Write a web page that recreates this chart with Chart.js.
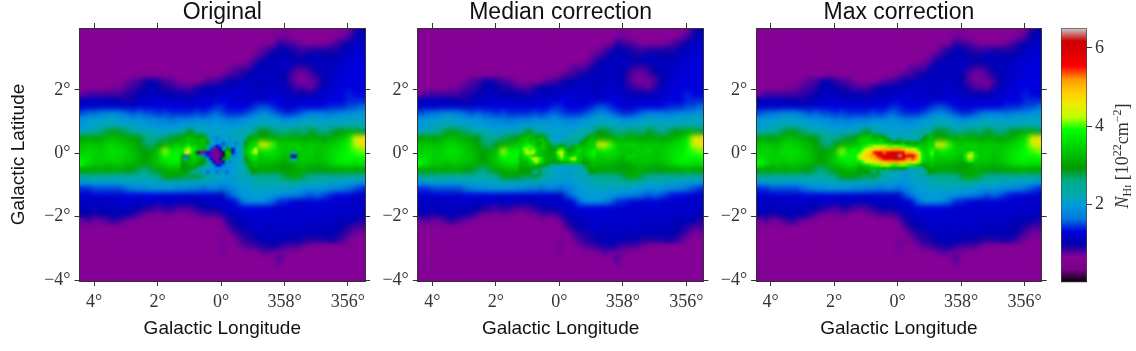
<!DOCTYPE html>
<html>
<head>
<meta charset="utf-8">
<title>Galactic NHI maps</title>
<script src="https://cdn.jsdelivr.net/npm/chart.js@4"></script>
<style>
  body { margin: 0; background: #fff; }
  #wrap { position: relative; width: 1136px; height: 351px; overflow: hidden; }
  canvas { position: absolute; top: 0; }
</style>
</head>
<body>
<div id="wrap">
  <canvas id="panelOriginal" width="380" height="351" style="left:0"></canvas>
  <canvas id="panelMedian" width="380" height="351" style="left:338px"></canvas>
  <canvas id="panelMax" width="380" height="351" style="left:676px"></canvas>
  <canvas id="colorbar" width="96" height="351" style="left:1040px"></canvas>
</div>
<script>
const panelTitles = ['Original', 'Median correction', 'Max correction'];
const lonTicks = [4, 2, 0, -2, -4];
const lonTickLabels = ['4°', '2°', '0°', '358°', '356°'];
const latTicks = [2, 0, -2, -4];
const latTickLabels = ['2°', '0°', '−2°', '−4°'];
const cbarTicks = [2, 4, 6];

// longitude / latitude of the 0.2 degree map cells
const lonCenters = [4.36,4.16,3.96,3.76,3.56,3.36,3.16,2.96,2.76,2.56,2.36,2.16,1.96,1.76,1.56,1.36,1.16,.96,.76,.56,.36,.16,-.04,-.24,-.44,-.64,-.84,-1.04,-1.24,-1.44,-1.64,-1.84,-2.04,-2.24,-2.44,-2.64,-2.84,-3.04,-3.24,-3.44,-3.64,-3.84,-4.04,-4.24,-4.44];
const latCenters = [3.86,3.66,3.46,3.26,3.06,2.86,2.66,2.46,2.26,2.06,1.86,1.66,1.46,1.26,1.06,.86,.66,.46,.26,.06,-.14,-.34,-.54,-.74,-.94,-1.14,-1.34,-1.54,-1.74,-1.94,-2.14,-2.34,-2.54,-2.74,-2.94,-3.14,-3.34,-3.54,-3.74,-3.94];

// column density, 10^22 cm^-2, one row per latitude
const nhMap = [
[.6,.6,.6,.6,.6, .6,.6,.6,.6,.6, .6,.6,.6,.6,.6, .6,.6,.6,.6,.6, .6,.6,.6,.6,.6, .6,.6,.6,.6,.6, .6,.6,.7,.6,.6, .6,.6,.6,.6,.6, .6,.6,.7,.9,1],
[.6,.6,.6,.6,.6, .6,.6,.6,.6,.6, .6,.6,.6,.6,.6, .6,.6,.6,.6,.6, .6,.6,.6,.6,.6, .6,.6,.6,.6,.6, .6,.7,.7,.6,.6, .6,.6,.6,.6,.6, .6,.7,.8,1,1.1],
[.6,.6,.6,.6,.6, .6,.6,.6,.6,.6, .6,.6,.6,.6,.6, .6,.6,.6,.6,.6, .6,.6,.6,.6,.6, .6,.6,.6,.6,.6, .6,.9,.8,.8,.7, .6,.6,.6,.6,.7, .8,.9,1,1.1,1.2],
[.6,.6,.6,.6,.6, .6,.6,.6,.6,.6, .6,.6,.6,.6,.6, .6,.6,.6,.6,.6, .6,.6,.6,.6,.6, .6,.6,.6,.7,.8, .9,1,1,.9,.9, .8,.9,.9,.9,.9, .9,1,1.1,1.2,1.2],
[.6,.6,.6,.6,.6, .6,.6,.6,.6,.6, .6,.6,.6,.6,.6, .6,.6,.6,.6,.6, .6,.6,.6,.6,.6, .6,.6,.7,.8,.9, 1,1.1,1.1,1,.9, 1,1.1,1.1,1,1, 1,1.1,1.2,1.2,1.3],
[.6,.6,.6,.6,.6, .6,.6,.6,.6,.6, .6,.6,.6,.6,.6, .6,.6,.6,.6,.6, .6,.6,.6,.6,.6, .6,.7,.8,1,1, 1.1,1.1,1.1,1.1,1, 1,1.1,1.1,1.1,1.1, 1.1,1.2,1.2,1.3,1.3],
[.6,.6,.6,.6,.6, .6,.6,.6,.6,.6, .6,.6,.6,.6,.6, .6,.6,.6,.6,.6, .6,.6,.6,.6,.8, .8,.8,1,1.1,1.1, 1.1,1.1,1.1,.9,.8, .8,.9,1,1.1,1.1, 1.2,1.2,1.3,1.3,1.3],
[.6,.6,.6,.6,.6, .6,.6,.6,.6,.6, .6,.6,.6,.6,.6, .6,.6,.6,.6,.6, .6,.6,.7,.8,.8, .9,1,1.1,1.1,1.1, 1.1,1.1,1,.8,.7, .7,.8,.9,1.1,1.1, 1.2,1.2,1.3,1.3,1.3],
[.6,.6,.6,.6,.6, .6,.6,.7,.8,.8, 1,1,.9,.8,.8, .7,.6,.6,.6,.7, .8,.8,.9,1,1, 1.1,1.1,1.1,1.1,1.1, 1.1,1.1,1,.8,.7, .7,.7,.8,1,1.1, 1.2,1.3,1.3,1.3,1.3],
[.6,.6,.6,.6,.6, .7,.7,.8,.8,.9, 1,1.1,1,.9,.9, .8,.8,.8,.9,1, 1,1.1,1.1,1.1,1.1, 1.2,1.2,1.1,1.1,1.1, 1.2,1.1,1.1,.9,.8, .8,.7,.9,1.1,1.2, 1.3,1.3,1.3,1.3,1.3],
[.7,.8,.8,.8,.8, .8,.8,.9,.9,1, 1.1,1.1,1.1,1,1, 1.1,1,.9,1.1,1.1, 1.1,1.1,1.2,1.2,1.2, 1.2,1.2,1.1,1.1,1.2, 1.2,1.2,1.1,1.1,1, 1,1,1.1,1.2,1.2, 1.3,1.3,1.4,1.3,1.3],
[1,1.1,1.1,1.1,1.1, 1,1,.9,1,1.1, 1.1,1.2,1.2,1.2,1.1, 1.1,1.1,1.1,1.2,1.2, 1.2,1.2,1.3,1.3,1.2, 1.2,1.2,1.2,1.2,1.2, 1.3,1.3,1.2,1.2,1.2, 1.2,1.2,1.2,1.3,1.3, 1.3,1.3,1.4,1.4,1.4],
[1.2,1.2,1.2,1.2,1.2, 1.2,1.2,1.2,1.2,1.3, 1.3,1.3,1.3,1.3,1.3, 1.3,1.3,1.2,1.3,1.3, 1.3,1.4,1.4,1.3,1.3, 1.3,1.3,1.4,1.5,1.5, 1.4,1.3,1.2,1.2,1.3, 1.3,1.3,1.3,1.3,1.4, 1.4,1.4,1.5,1.5,1.6],
[1.5,1.6,1.6,1.7,1.8, 1.8,1.7,1.6,1.5,1.6, 1.5,1.5,1.4,1.5,1.4, 1.4,1.4,1.4,1.5,1.4, 1.5,1.6,1.5,1.4,1.4, 1.4,1.5,1.6,1.8,1.8, 1.6,1.5,1.4,1.4,1.5, 1.6,1.7,1.7,1.7,1.6, 1.7,1.8,1.8,1.9,1.9],
[1.9,2,2,2,2.1, 2.1,2,2,1.9,1.9, 1.8,1.8,1.7,1.7,1.6, 1.7,1.7,1.7,1.8,1.8, 1.8,1.9,1.8,1.7,1.7, 1.8,1.9,2,2.1,2.1, 2,2,1.8,1.9,1.9, 2,2.1,2,2,2, 2.1,2,2.1,2.1,2.1],
[1.9,2,2.1,2.2,2.2, 2.2,2.2,2.1,2.1,2, 2,1.9,1.9,1.9,1.9, 1.9,2,2,2,2.1, 2,2,2,1.9,1.9, 2,2,2.1,2.2,2.3, 2.2,2.1,2.1,2.2,2.2, 2.3,2.3,2.2,2.2,2.2, 2.2,2.2,2.3,2.3,2.2],
[2.2,2.3,2.4,2.6,2.8, 3,2.8,2.7,2.5,2.3, 2.3,2.2,2.1,2.1,2.2, 2.2,2.5,2.9,2.5,2.2, 2.1,2.1,2.1,2.1,2.2, 2.3,2.3,2.5,2.9,2.9, 2.7,2.6,2.6,2.7,2.7, 2.6,2.9,2.7,2.5,2.7, 2.9,3,3.1,3.1,2.8],
[3,3.1,3,3.1,3.2, 3.3,3.2,3.1,3,2.9, 2.6,2.5,2.5,2.7,2.8, 2.9,3,3,3.1,2.9, 2.6,2.2,2,2.1,2.1, 2.2,2.6,3,3.1,3.1, 3.1,3.1,3.2,3.1,3.1, 3,3.1,3.1,3,3.1, 3.2,3.4,3.6,4.4,4.7],
[3.3,3.4,3.3,3.3,3.5, 3.5,3.4,3.3,3.2,3, 2.7,2.6,2.9,3.1,3.2, 3.4,3.4,3.5,3.4,3.3, 3,3,3,3,3, 3.1,3.2,3.5,4.4,4.6, 4,3.4,3.4,3.5,3.5, 3.3,3.4,3.4,3.3,3.4, 3.5,3.6,3.8,4.3,4.7],
[3.4,3.5,3.5,3.4,3.6, 3.6,3.6,3.4,3.3,3.1, 2.9,3.1,3.3,4.2,3.7, 3.8,3.7,3.7,3.5,3.4, 3,3,3,3,3, 3.1,3.3,3.4,3.5,3.8, 3.6,3.5,3.4,3.3,3.4, 3.4,3.5,3.3,3.4,3.5, 3.6,3.7,3.9,4,4.1],
[3.6,3.6,3.4,3.5,3.5, 3.6,3.5,3.4,3.4,3.1, 3,3.2,3.4,3.9,3.8, 3.9,3.7,3.6,3.5,3.4, 3,3,3,3,3, 3.1,3.2,3.3,3.4,3.4, 3.5,3.4,3.2,3.4,3.5, 3.4,3.4,3.3,3.4,3.5, 3.7,3.8,3.9,3.8,3.9],
[3.9,3.6,3.4,3.4,3.3, 3.4,3.4,3.3,3.2,3.1, 3,3.2,3.4,3.5,3.7, 3.6,3.6,3.5,3.3,3.2, 2.8,2.8,2.8,2.8,2.8, 2.9,3,3.1,3.3,3.2, 3.2,3.1,3,3.1,3.3, 3.3,3.3,3.2,3.3,3.4, 3.6,3.7,3.7,3.6,3.6],
[3,3,3,3.1,3, 3.1,3.1,2.9,2.9,2.7, 2.5,2.8,3,3.1,3.2, 3.2,3.1,3.1,3,2.9, 2.5,2.5,2.5,2.5,2.5, 2.6,2.7,2.9,3,3, 3,3,3,3,3.1, 3.1,3,2.9,2.9,3, 3,3,3.1,3,3],
[2.5,2.5,2.4,2.4,2.4, 2.4,2.4,2.3,2.3,2.3, 2.3,2.4,2.6,3,3, 2.9,2.8,2.7,2.8,2.6, 2.4,2.1,2.2,1.9,2.1, 2.2,2.1,2.4,2.5,2.6, 2.5,2.5,2.8,3.1,3.1, 2.7,2.5,2.5,2.5,2.5, 2.5,2.5,2.4,2.4,2.4],
[1.9,2,2.1,2,2, 2,2,2.1,2.1,2.1, 2.1,2.1,2.1,2.1,2.1, 2.1,2.1,2.1,2.1,2.1, 2,2,1.9,1.9,2, 2.1,2.1,2.2,2.3,2.3, 2.3,2.3,2.3,2.4,2.3, 2.2,2.2,2.2,2.1,2.1, 2.1,2,2,2,1.9],
[1.4,1.4,1.5,1.5,1.5, 1.5,1.5,1.6,1.7,1.8, 1.8,1.9,1.9,1.9,1.9, 1.8,1.8,1.7,1.7,1.6, 1.7,1.7,1.6,1.7,1.8, 2,2,2.1,2.1,2.1, 2.1,2.1,2.1,2,2, 1.9,1.9,1.9,1.9,1.8, 1.8,1.7,1.6,1.5,1.4],
[1.2,1.2,1.2,1.2,1.2, 1.2,1.2,1.3,1.3,1.3, 1.3,1.3,1.3,1.2,1.3, 1.2,1.2,1.2,1.2,1.2, 1.2,1.1,1.1,1.5,1.7, 1.9,1.9,2,2,2, 1.9,1.9,1.8,1.8,1.7, 1.6,1.5,1.6,1.5,1.4, 1.3,1.3,1.3,1.2,1.2],
[1.1,1.2,1.1,1.1,1.2, 1.1,1.2,1.2,1.1,1.1, 1.2,1.2,1.1,1.1,1.2, 1.1,1.1,1.1,1.1,1.1, 1.2,1.2,1.2,1.2,1.3, 1.6,1.9,1.9,1.9,1.8, 1.6,1.4,1.4,1.3,1.2, 1.2,1.3,1.3,1.2,1.2, 1.2,1.2,1.1,1.1,1.2],
[1,1.1,1.1,1.1,1.1, 1.1,1.1,1.1,1.1,1, .9,.9,.8,.9,.9, .8,.8,.8,.9,1, 1,1,1.1,1.2,1.2, 1.3,1.3,1.3,1.3,1.3, 1.2,1.2,1.2,1.2,1.2, 1.2,1.2,1.2,1.2,1.2, 1.2,1.2,1.2,1.2,1.1],
[1,1,.9,1,1, 1.1,1,1,.9,.8, .7,.7,.7,.7,.7, .6,.6,.7,.7,.8, .8,.8,.9,1.1,1.1, 1.2,1.2,1.2,1.2,1.2, 1.2,1.2,1.2,1.2,1.2, 1.2,1.2,1.2,1.2,1.2, 1.1,1.1,1.2,1.1,1.1],
[.7,.8,.7,.7,.8, .9,.8,.7,.7,.6, .6,.6,.6,.6,.6, .6,.6,.6,.6,.6, .6,.6,.7,.9,1, 1.1,1.1,1.2,1.2,1.2, 1.2,1.2,1.2,1.2,1.2, 1.1,1.2,1.2,1.1,1.2, 1.1,1,1.1,1,.9],
[.6,.6,.6,.6,.6, .6,.6,.6,.6,.6, .6,.6,.6,.6,.6, .6,.6,.6,.6,.6, .6,.6,.6,.8,.9, 1,1.1,1.1,1.2,1.1, 1.1,1.2,1.1,1.1,1.2, 1.1,1.1,1.1,1.1,1.1, 1,1,.9,.8,.8],
[.6,.6,.6,.6,.6, .6,.6,.6,.6,.6, .6,.6,.6,.6,.6, .6,.6,.6,.6,.6, .6,.6,.6,.6,.8, .9,.9,1.1,1.1,1.1, 1.1,1.1,1.1,1.1,1.1, 1.1,1,1.1,1,1.1, 1,.9,.8,.7,.7],
[.6,.6,.6,.6,.6, .6,.6,.6,.6,.6, .6,.6,.6,.6,.6, .6,.6,.6,.6,.6, .6,.6,.7,.6,.7, .8,.9,.9,1,1.1, 1.1,1.1,1,1,1, .9,.9,.9,.9,1, .9,.8,.7,.6,.6],
[.6,.6,.6,.6,.6, .6,.6,.6,.6,.6, .6,.6,.6,.6,.6, .6,.6,.6,.6,.6, .6,.6,.7,.6,.6, .7,.8,.8,.9,.9, 1,.9,.8,.8,.8, .7,.6,.6,.6,.6, .6,.6,.6,.6,.6],
[.6,.6,.6,.6,.6, .6,.6,.6,.6,.6, .6,.6,.6,.6,.6, .6,.6,.6,.6,.6, .6,.6,.7,.6,.6, .6,.6,.6,.7,.8, .7,.7,.7,.6,.6, .6,.6,.6,.6,.6, .6,.6,.6,.6,.6],
[.6,.6,.6,.6,.6, .6,.6,.6,.6,.6, .6,.6,.6,.6,.6, .6,.6,.6,.6,.6, .6,.6,.6,.6,.6, .6,.6,.6,.6,.6, .6,.8,.6,.6,.6, .6,.6,.6,.6,.6, .6,.6,.6,.6,.6],
[.55,.55,.55,.55,.55, .55,.55,.55,.55,.55, .55,.55,.55,.55,.55, .55,.55,.55,.55,.55, .6,.6,.6,.6,.6, .6,.6,.6,.6,.6, .6,.7,.6,.6,.6, .6,.6,.6,.6,.6, .6,.6,.6,.6,.6],
[.55,.55,.55,.55,.55, .55,.55,.55,.55,.55, .55,.55,.55,.55,.55, .55,.55,.55,.55,.55, .55,.55,.55,.55,.55, .55,.6,.6,.6,.6, .6,.6,.6,.6,.6, .6,.6,.6,.6,.6, .6,.6,.6,.6,.6],
[.55,.55,.55,.55,.55, .55,.55,.55,.55,.55, .55,.55,.55,.55,.55, .55,.55,.55,.55,.55, .55,.55,.55,.55,.55, .55,.55,.55,.55,.55, .55,.55,.6,.6,.6, .6,.6,.6,.6,.6, .6,.6,.6,.6,.6]
];

// the Galactic centre differs per panel, read at 0.1 degree
const coreLon = [1.21,1.11,1.01,.91,.81,.71,.61,.51,.41,.31,.21,.11,.01,-.09,-.19,-.29,-.39,-.49,-.59,-.69,-.79,-.89,-.99,-1.09];
const coreLat = [.51,.41,.31,.21,.11,.01,-.09,-.19,-.29,-.39,-.49,-.59];
const coreOriginal = [
[3,3.1,3.2,3.2,3.1,3,3,3.1,2.6,2,1.9,1.8,1.9,2,2.1,2.1,2.2,2.2,2.1,2.2,2.4,2.8,3.1,3.2],
[3.2,3.3,3.4,3.2,3.3,3.2,3.3,3.3,2.8,2.1,1.9,1.8,2,2.1,2.2,1.9,2.2,2.3,2.1,2.2,2.7,3.1,3.2,3.3],
[3.3,3.3,3.5,3.3,3.4,3.2,3.3,3.3,3,2.3,2,1.9,2,1.5,2,1.9,2,1.7,2.2,2.4,2.9,3.3,3.4,3.5],
[3.4,3.6,3.9,3.5,3.6,3.3,3.3,3.2,2.5,2,1.6,1.3,1.5,1.9,1.7,2,2.1,2,2.1,2.5,3.1,3.4,3.5,3.7],
[3.6,4,4.3,3.9,3.6,3.4,3.3,3.1,2.4,1.5,.7,.7,1,2.6,3.1,3,1.3,2,2.2,2.4,3.2,3.5,3.8,4.3],
[3.4,4.4,4.6,3.9,3.3,.9,.6,.7,1.3,.8,.6,.7,.8,.1,3.5,3.4,1.2,1.9,2,2.3,3.3,3.5,4,4.4],
[3.1,1.6,2.8,3.5,3.4,3.2,2.6,1.6,1.4,.7,.7,.6,.7,.1,3.4,3.3,1.8,2,2,2.3,3.2,3.4,3.6,3.8],
[3.1,2,2.9,3.4,3.5,3.3,3.1,2.8,2,1.3,.7,.7,1,3,3.2,2.6,1.8,2,2.1,2.4,3,3.3,3.5,3.6],
[3,3.1,3.2,3.3,3.3,3.1,3,2.9,2.6,2,1,.6,.7,1.2,2.3,1.7,2,2.1,2.1,2.3,2.8,3.1,3.3,3.4],
[2.9,3,3.1,3.2,3.1,3,2.8,2.6,2.4,2.1,1.8,1.3,1.4,1.7,1.9,2,2,2.1,2.1,2.3,2.6,3.1,3.2,3.3],
[2.9,2.9,3,3,2.8,2.6,2.6,2.4,2.2,2,1.9,1.9,1.8,1.9,2,1.9,2,2.1,2.1,2.2,2.4,2.8,3,3.1],
[3,2.9,2.8,2.6,2.4,2.3,1.8,2.1,1.6,2,1.9,1.6,1.9,1.9,1.6,1.9,2,2,2.1,2.2,2.3,2.6,2.9,3]
];
const coreMedian = [
[3.1,3.2,3.3,3.3,3.2,3,3,3.1,2.8,2.2,2,2,1.9,2,2.1,2.1,2.2,2.3,2.2,2.3,2.5,2.8,3.1,3.2],
[3.3,3.4,3.5,3.2,3.3,3.2,3.3,3.4,3,2.6,2.3,2.1,2.1,2.2,2.4,2.3,2.5,2.4,2.4,2.6,2.8,3.1,3.3,3.3],
[3.4,3.4,3.7,3.4,3.5,3.3,3,3.4,3.3,3.1,2.5,2.4,2.4,2.5,2.7,2.4,2.5,2.6,2.6,2.9,3.1,3.3,3.5,3.5],
[3.5,3.8,3.9,4,3.6,3.3,3.2,3.5,3.3,3.1,2.8,2.7,3,3,2.8,2.6,2.8,3.1,3.3,3.3,3.3,3.3,3.4,3.5],
[3.6,4,4.3,3.8,4.1,3.6,3.3,3.4,3.2,3,3,3.1,3.7,4,3.4,3,3.1,3.2,3.5,3.4,3.4,3.5,3.5,3.7],
[3.5,3.9,4.5,4.2,4.4,3.6,3.4,3.3,3.2,3.1,3.1,3.3,4.2,4.5,3.6,3.2,3.2,3.3,3.6,3.5,3.3,3.6,3.6,3.9],
[3.4,3.6,3.9,4,3.6,3.5,3.4,3.3,3.1,3.1,3.1,3.2,3.9,4.3,3.7,3.4,3.4,3.7,3.5,3.4,3.3,3.5,3.6,3.8],
[3.3,3.5,3.4,3.8,4.3,4.5,4,3.6,3.2,3.2,3.1,3.1,3.6,4,3.5,3.6,4.1,4.3,3.6,3.4,3.2,3.3,3.4,3.5],
[3.2,3.2,3.3,3.4,3.9,4.2,3.8,3.4,3.1,3,3,3,3,3.2,3.2,3.3,3.4,3.4,3.3,3.2,3,3.1,3.2,3.3],
[3.1,3.2,3.2,3.3,3.3,3.2,3.1,3,2.9,2.7,2.6,2.4,2.4,2.5,2.4,2.5,2.5,2.4,2.4,2.5,2.8,3.1,3.2,3.3],
[3,3,3,3.1,2.9,2.8,2.8,2.6,2.5,2.3,2.2,2.1,2.1,2,2.1,2,2.1,2.1,2.2,2.2,2.4,2.8,3,3.1],
[3,3,2.9,3,2.6,2.4,2.8,2.4,2.1,2.3,2.1,2,2,1.9,2,1.9,2,2,2.1,2.2,2.3,2.6,2.9,3]
];
const coreMax = [
[3.1,3.3,3.4,3.4,3.3,3.1,3.1,3.1,2.9,2.5,2.3,2.2,2.1,2.2,2.3,2.2,2.3,2.3,2.2,2.3,2.5,2.9,3.2,3.3],
[3.4,3.5,3.5,3.5,3.4,3.3,3.4,3.4,3.2,2.9,2.8,2.6,2.7,2.8,2.6,2.5,2.5,2.6,2.5,2.6,2.9,3.1,3.3,3.3],
[3.4,3.5,3.6,3.6,3.7,3.6,3.6,3.6,3.5,3.4,3.3,3.1,3,3.1,3.3,3,3,3.2,3,3.1,3.3,3.3,3.4,3.5],
[3.5,3.7,3.8,4,4.1,4.2,4.2,4.2,4.2,4.1,4,4.1,4.1,4,4,3.8,3.6,3.5,3.4,3.4,3.4,3.4,3.5,3.6],
[3.6,3.9,4.3,4.5,4.7,4.8,4.8,4.9,5.1,5,5,5.1,5.2,5.1,5,4.8,4.6,4.4,4.2,3.8,3.5,3.5,3.6,3.8],
[3.9,4.3,4.6,4.8,5,5.6,5.7,5.8,5.3,5.6,5.9,6,5.9,5.8,5.6,5,5.2,5,4.8,4.3,3.7,3.5,3.6,4],
[4.2,4.6,4.8,4.9,5.1,5.2,5.7,5.9,5.9,6,6.1,6.1,6.2,6.4,6,5.7,5.9,5.8,5.3,4.6,3.8,3.5,3.6,3.9],
[4.1,4.5,4.7,4.7,4.9,5,5.2,5.4,5.8,5.9,5.6,5.9,6,6,5.9,5.3,5.2,5.4,5.2,4.6,3.8,3.5,3.4,3.6],
[3.6,3.9,4.2,4.4,4.5,4.6,4.7,4.8,4.9,5,5.1,5,5.2,5,4.9,4.8,4.9,4.7,4.6,4.1,3.5,3.3,3.3,3.4],
[3.3,3.4,3.5,3.6,3.9,4,4,4.1,4.2,4.2,4.1,3.9,4,4.1,4.1,4,3.9,3.7,3.5,3.2,3,3.1,3.2,3.3],
[3,3.1,3.1,3.2,3.3,3.3,3.2,3.3,3.1,3.3,3.1,3,2.8,2.9,2.9,2.8,2.6,2.5,2.4,2.3,2.5,2.8,3,3.1],
[3,3,2.9,3,2.7,2.6,2.8,2.5,2.3,2.4,2.2,2.1,2.1,2,2,2,2,2,2.1,2.2,2.3,2.6,2.9,3]
];

// small source near l = 357.7
const spotLon = [-2.15,-2.25,-2.35,-2.45];
const spotLat = [-.01,-.11,-.21];
const spotOriginal = [[3.3,2.2,2.4,3.3],[3.3,.9,1.2,3.3],[3.3,2.4,2.6,3.3]];
const spotMedian = [[3.4,3.3,3.4,3.4],[3.4,3.5,3.5,3.4],[3.4,3.3,3.4,3.3]];
const spotMax = [[3.6,4,4.1,3.6],[3.8,4.7,4.8,3.8],[3.5,4,4,3.5]];

// nipy_spectral
const cmapPos = [0,.05,.1,.15,.2,.25,.3,.35,.4,.45,.5,.55,.6,.65,.7,.75,.8,.85,.9,.95,1];
const cmapRgb = [[0,0,0],[119,0,136],[136,0,153],[0,0,170],[0,0,221],[0,119,221],[0,153,221],[0,170,170],[0,170,136],[0,153,0],[0,187,0],[0,221,0],[0,255,0],[187,255,0],[238,238,0],[255,204,0],[255,153,0],[255,0,0],[221,0,0],[204,0,0],[204,204,204]];
const vMin = 0;
const vMax = 6.5;

function nhColor(v) {
    const f = Math.min(1, Math.max(0, (v - vMin) / (vMax - vMin)));
    let i = 0;
    while (i < cmapPos.length - 2 && f > cmapPos[i + 1]) i++;
    const t = (f - cmapPos[i]) / (cmapPos[i + 1] - cmapPos[i]);
    const c = cmapRgb[i].map((a, k) => Math.round(a + (cmapRgb[i + 1][k] - a) * t));
    return `rgb(${c[0]},${c[1]},${c[2]})`;
}

function gridPoints(rows, lons, lats) {
    const pts = [];
    rows.forEach((row, r) => row.forEach((v, c) => pts.push({ x: lons[c], y: lats[r], v: v })));
    return pts;
}

function cellDataset(rows, lons, lats, deg) {
    return {
        data: gridPoints(rows, lons, lats),
        pointStyle: 'rect',
        pointBorderWidth: 0,
        clip: 0,
        pointRadius: ctx => {
            const s = ctx.chart.scales.x;
            const px = Math.abs(s.getPixelForValue(deg) - s.getPixelForValue(0));
            return (px + 0.7) / Math.SQRT2;
        },
        pointBackgroundColor: ctx => ctx.raw ? nhColor(ctx.raw.v) : '#000'
    };
}

// the reference map is interpolated, so soften the cell edges after the datasets are drawn
const smoothCells = {
    id: 'smoothCells',
    afterDatasetDraw(chart, args) {
        const radius = args.index === 2 ? 2.6 : (args.index === 0 ? 0.8 : 0);
        if (!radius) return;
        const { left, top, width, height } = chart.chartArea;
        const c = chart.ctx;
        c.save();
        c.beginPath();
        c.rect(left, top, width, height);
        c.clip();
        c.filter = `blur(${radius}px)`;
        c.drawImage(chart.canvas, left, top, width, height, left, top, width, height);
        c.restore();
    }
};

const AXIS_COLOR = '#333';
const TICK_FONT = { family: '"Liberation Serif", serif', size: 18 };

function frameAxis(position, min, max, ticks, size, extra) {
    return Object.assign({
        type: 'linear',
        position: position,
        min: min,
        max: max,
        afterBuildTicks: s => { s.ticks = ticks.map(v => ({ value: v })); },
        afterFit: s => {
            if (position === 'top' || position === 'bottom') s.height = size;
            else s.width = size;
        },
        border: { color: AXIS_COLOR, width: 1, z: 1 },
        grid: { drawOnChartArea: false, tickLength: 5, color: AXIS_COLOR, z: 1 },
        ticks: { display: false }
    }, extra || {});
}

function createPanel(id, title, plotLeft, core, spot, showLatTitle) {
    const tickStyle = { display: true, font: TICK_FONT, color: '#333', autoSkip: false, maxRotation: 0, padding: 4 };
    return new Chart(document.getElementById(id), {
        type: 'scatter',
        plugins: [smoothCells],
        data: {
            datasets: [
                cellDataset(spot, spotLon, spotLat, 0.1),
                cellDataset(core, coreLon, coreLat, 0.1),
                cellDataset(nhMap, lonCenters, latCenters, 0.2)
            ]
        },
        options: {
            responsive: false,
            animation: false,
            events: [],
            layout: { padding: 0 },
            plugins: { legend: { display: false }, tooltip: { enabled: false } },
            scales: {
                x: frameAxis('bottom', -4.54, 4.46, lonTicks, 70, {
                    reverse: true,
                    ticks: Object.assign({}, tickStyle, { padding: 5, callback: v => lonTickLabels[lonTicks.indexOf(v)] }),
                    title: { display: true, text: 'Galactic Longitude', color: '#111', padding: { top: 0, bottom: 10.8 },
                        font: { family: '"Liberation Sans", sans-serif', size: 19 } }
                }),
                xTop: frameAxis('top', -4.54, 4.46, lonTicks, 28, {
                    reverse: true,
                    title: { display: true, text: title, color: '#111', padding: { top: 0.8, bottom: 0 },
                        font: { family: '"Liberation Sans", sans-serif', size: 23, lineHeight: 1 } }
                }),
                y: frameAxis('left', -4.03, 3.95, latTicks, plotLeft, {
                    ticks: Object.assign({}, tickStyle, { callback: v => latTickLabels[latTicks.indexOf(v)] }),
                    title: { display: showLatTitle, text: 'Galactic Latitude', color: '#111', padding: { top: 7.5, bottom: 0 },
                        font: { family: '"Liberation Sans", sans-serif', size: 19 } }
                }),
                yRight: frameAxis('right', -4.03, 3.95, latTicks, 380 - plotLeft - 285.6)
            }
        }
    });
}

createPanel('panelOriginal', panelTitles[0], 79.5, coreOriginal, spotOriginal, true);
createPanel('panelMedian', panelTitles[1], 79.8, coreMedian, spotMedian, false);
createPanel('panelMax', panelTitles[2], 80.1, coreMax, spotMax, false);

// colour bar label with sub- and superscripts
const cbarLabelParts = [
    ['N', 'italic 18px "Liberation Serif", serif', 0],
    ['H', '12px "Liberation Serif", serif', 3],
    ['I', '9px "Liberation Serif", serif', 3],
    [' [10', '18px "Liberation Serif", serif', 0],
    ['22', '12px "Liberation Serif", serif', -7],
    ['cm', '18px "Liberation Serif", serif', 0],
    ['−2', '12px "Liberation Serif", serif', -7],
    [']', '18px "Liberation Serif", serif', 0]
];

const cbarLabelPlugin = {
    id: 'cbarLabel',
    afterDraw(chart) {
        const c = chart.ctx;
        c.save();
        c.translate(82, 156);
        c.rotate(-Math.PI / 2);
        c.fillStyle = '#333';
        c.textBaseline = 'alphabetic';
        let total = 0;
        cbarLabelParts.forEach(p => { c.font = p[1]; total += c.measureText(p[0]).width; });
        let x = -total / 2;
        cbarLabelParts.forEach(p => {
            c.font = p[1];
            c.fillText(p[0], x, 6 + p[2]);
            x += c.measureText(p[0]).width;
        });
        c.restore();
    }
};

new Chart(document.getElementById('colorbar'), {
    type: 'bar',
    plugins: [cbarLabelPlugin],
    data: {
        labels: ['NHI'],
        datasets: [{
            data: [[vMin, vMax]],
            barPercentage: 1,
            categoryPercentage: 1,
            borderWidth: 1,
            borderColor: '#444',
            borderSkipped: false,
            backgroundColor: ctx => {
                const area = ctx.chart.chartArea;
                if (!area) return '#000';
                const g = ctx.chart.ctx.createLinearGradient(0, area.bottom, 0, area.top);
                cmapPos.forEach((p, i) => g.addColorStop(p, `rgb(${cmapRgb[i].join(',')})`));
                return g;
            }
        }]
    },
    options: {
        responsive: false,
        animation: false,
        events: [],
        layout: { padding: { left: 21, top: 28.3, bottom: 68.5 } },
        plugins: { legend: { display: false }, tooltip: { enabled: false } },
        scales: {
            x: { display: false },
            y: frameAxis('right', vMin, vMax, cbarTicks, 49, {
                border: { display: false },
                ticks: { display: true, font: TICK_FONT, color: '#333', padding: 3, callback: v => String(v) }
            })
        }
    }
});
</script>
</body>
</html>
